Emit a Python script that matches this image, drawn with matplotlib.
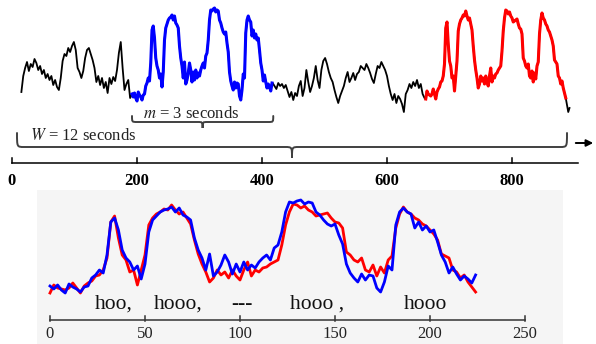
import numpy as np
import matplotlib
matplotlib.use("Agg")
import matplotlib.pyplot as plt
from matplotlib.path import Path
from matplotlib.patches import PathPatch

# ---------------- data ----------------
# bottom panel: query (blue) and best match (red), every 2nd sample
sample_step = 2
query_blue = [14, 11, 15, 10, 7, 16, 13, 11, 8, 13,
              14, 22, 25, 30, 27, 45, 78, 82, 70, 50,
              42, 38, 30, 34, 21, 36, 68, 80, 84, 88,
              90, 91, 93, 88, 92, 85, 83, 80, 62, 50,
              42, 30, 46, 24, 28, 35, 45, 38, 26, 36,
              28, 38, 30, 35, 32, 38, 42, 45, 40, 52,
              55, 68, 88, 98, 97, 99, 100, 96, 98, 97,
              88, 85, 80, 76, 74, 76, 65, 56, 36, 27,
              22, 18, 26, 20, 25, 24, 12, 8, 18, 34,
              30, 75, 88, 92, 88, 86, 72, 78, 70, 74,
              68, 70, 58, 45, 38, 27, 33, 26, 20, 24,
              21, 17, 25]
match_red = [7, 15, 12, 11, 10, 12, 17, 12, 7, 14,
             17, 19, 24, 25, 30, 42, 78, 84, 62, 45,
             40, 28, 30, 15, 30, 45, 75, 82, 86, 88,
             91, 90, 95, 90, 86, 88, 82, 76, 60, 46,
             36, 28, 18, 22, 30, 25, 28, 22, 30, 24,
             20, 30, 38, 24, 30, 28, 32, 33, 36, 38,
             40, 55, 75, 88, 96, 95, 92, 94, 90, 88,
             84, 85, 86, 87, 82, 78, 77, 72, 48, 45,
             40, 38, 42, 30, 28, 35, 24, 33, 27, 40,
             44, 72, 86, 93, 88, 86, 82, 80, 76, 74,
             70, 66, 60, 46, 44, 42, 30, 28, 22, 25,
             18, 13, 8]
bottom_ticks = [0, 50, 100, 150, 200, 250]
syllables = ["hoo,", "hooo,", "---", "hooo ,", "hooo"]
syllable_start = [23.7, 54.7, 95.3, 126.3, 186.3]

# top panel: the long stream (black parts), every 3rd sample
stream_a_start, stream_a_step = 15, 3
stream_a = [16, 32, 40, 46, 37, 44, 41, 49, 45, 38,
            42, 34, 38, 30, 34, 28, 32, 23, 28, 21,
            18, 30, 47, 54, 52, 60, 56, 62, 66, 58,
            40, 36, 30, 37, 50, 58, 60, 54, 48, 40,
            26, 32, 23, 30, 20, 26, 15, 30, 24, 31,
            27, 38, 55, 66, 40, 18, 24, 28, 10]
stream_b_start, stream_b_step = 417, 3
stream_b = [25, 22, 19, 25, 22, 24, 20, 23, 17, 11,
            16, 8, 15, 12, 22, 27, 12, 20, 38, 26,
            16, 22, 30, 42, 28, 20, 38, 47, 50, 44,
            36, 30, 26, 18, 11, 5, 12, 17, 22, 30,
            36, 26, 30, 35, 28, 34, 36, 42, 40, 38,
            44, 40, 35, 29, 25, 34, 42, 40, 46, 42,
            38, 32, 22, 14, 8, 14, 5, 12, 9, 4,
            -4, 14, 18, 24, 20, 26, 22, 28, 20, 24,
            14, 10]
stream_tail = [3, -4, 0]
query_start = 192
match_start = 662
red_level_shift = 2
top_ticks = [0, 200, 400, 600, 800]
window_span = (8, 888)

# ---------------- style ----------------
plt.rcParams["font.family"] = ["Liberation Serif", "DejaVu Serif"]
plt.rcParams["mathtext.fontset"] = "stix"

W, H = 596, 344
fig = plt.figure(figsize=(W / 100, H / 100), dpi=100)

# ---------- top axes ----------
top_h = 192
ax1 = fig.add_axes([0, 1 - top_h / H, 1, top_h / H])
px_per_u = 0.625
u_left = -12 / px_per_u
ax1.set_xlim(u_left, u_left + W / px_per_u)
ax1.set_ylim(108 - top_h, 108)
ax1.axis("off")

qa = np.asarray(query_blue, float)
ma = np.asarray(match_red, float) + red_level_shift
ua = stream_a_start + stream_a_step * np.arange(len(stream_a))
uq = query_start + sample_step * np.arange(len(qa))
ub = stream_b_start + stream_b_step * np.arange(len(stream_b))
um = match_start + sample_step * np.arange(len(ma))
ut = um[-1] + 2 + 2 * np.arange(len(stream_tail))

u_all = np.concatenate([ua, uq, ub, um, ut])
v_all = np.concatenate([stream_a, qa, stream_b, ma, stream_tail])
ax1.plot(u_all, v_all, color="black", lw=1.3, zorder=2)
ax1.plot(uq, qa, color="#0000ff", lw=2.2, zorder=3, solid_joinstyle="round")
ax1.plot(um, ma, color="#ff0000", lw=2.2, zorder=3, solid_joinstyle="round")

# time axis
axis_v = 108 - 163
ax1.plot([0, (578 - 12) / px_per_u], [axis_v, axis_v], color="black", lw=1.1)
for t in top_ticks:
    ax1.plot([t, t], [axis_v, axis_v + 5], color="black", lw=1.1)
    ax1.text(t, 108 - 181, str(t), ha="center", va="center",
             fontsize=12, fontweight="bold", color="black")
ax1.annotate("", xy=((596 - 12) / px_per_u, 108 - 143),
             xytext=((573 - 12) / px_per_u, 108 - 143),
             arrowprops=dict(arrowstyle="-|>", color="black", lw=1.4,
                             mutation_scale=10))

def brace(ax, x0, x1, y, hook, tip, r_px, color="#404040", lw=1.4):
    sx = 1 / px_per_u
    r = r_px * sx
    xm = (x0 + x1) / 2
    verts = [(x0, y + hook), (x0, y), (x0, y), (x0 + r, y),
             (xm - r, y),
             (xm, y), (xm, y), (xm, y - tip),
             (xm, y), (xm, y), (xm + r, y),
             (x1 - r, y),
             (x1, y), (x1, y), (x1, y + hook)]
    C, L = Path.CURVE4, Path.LINETO
    codes = [Path.MOVETO, C, C, C, L, C, C, C, C, C, C, L, C, C, C]
    ax.add_patch(PathPatch(Path(verts, codes), fill=False, ec=color, lw=lw,
                           capstyle="round"))

# m brace (under the query)
brace(ax1, uq[0], uq[-1] + 2, 108 - 122, 6, 6, 5)
ax1.text((143 - 12) / px_per_u, 108 - 118, r"$m$ = 3 seconds", fontsize=12,
         ha="left", va="baseline", color="#222222")
# W brace (whole window)
brace(ax1, window_span[0], window_span[1], 108 - 147, 14, 11, 7)
ax1.text((30 - 12) / px_per_u, 108 - 140, r"$W$ = 12 seconds", fontsize=12,
         ha="left", va="baseline", color="#222222")

# ---------- bottom axes ----------
bx0, bx1, by0 = 37, 563, 190
ax2 = fig.add_axes([bx0 / W, 0, (bx1 - bx0) / W, (H - by0) / H])
ax2.set_facecolor("#f5f5f5")
for s in ax2.spines.values():
    s.set_visible(False)
ax2.set_xticks([])
ax2.set_yticks([])
px_per_t = 1.9
ax2.set_xlim((bx0 - 50) / px_per_t, (bx1 - 50) / px_per_t)
ax2.set_ylim(300 - H, 300 - by0)

tq = sample_step * np.arange(len(qa))
ax2.plot(tq, match_red, color="#ff0000", lw=2.0, zorder=3)
ax2.plot(tq, query_blue, color="#0000ff", lw=2.0, zorder=4)

base_v = 300 - 320
ax2.plot([bottom_ticks[0], bottom_ticks[-1]], [base_v, base_v],
         color="#333333", lw=1.1)
for t in bottom_ticks:
    ax2.plot([t, t], [base_v - 1, base_v + 4], color="#333333", lw=1.1)
    ax2.text(t, 300 - 334, str(t), ha="center", va="center", fontsize=12,
             color="#222222")
for s, x in zip(syllables, syllable_start):
    ax2.text(x, 300 - 309, s, ha="left", va="baseline", fontsize=15.5,
             color="#111111")

fig.savefig("out.png", dpi=100)
